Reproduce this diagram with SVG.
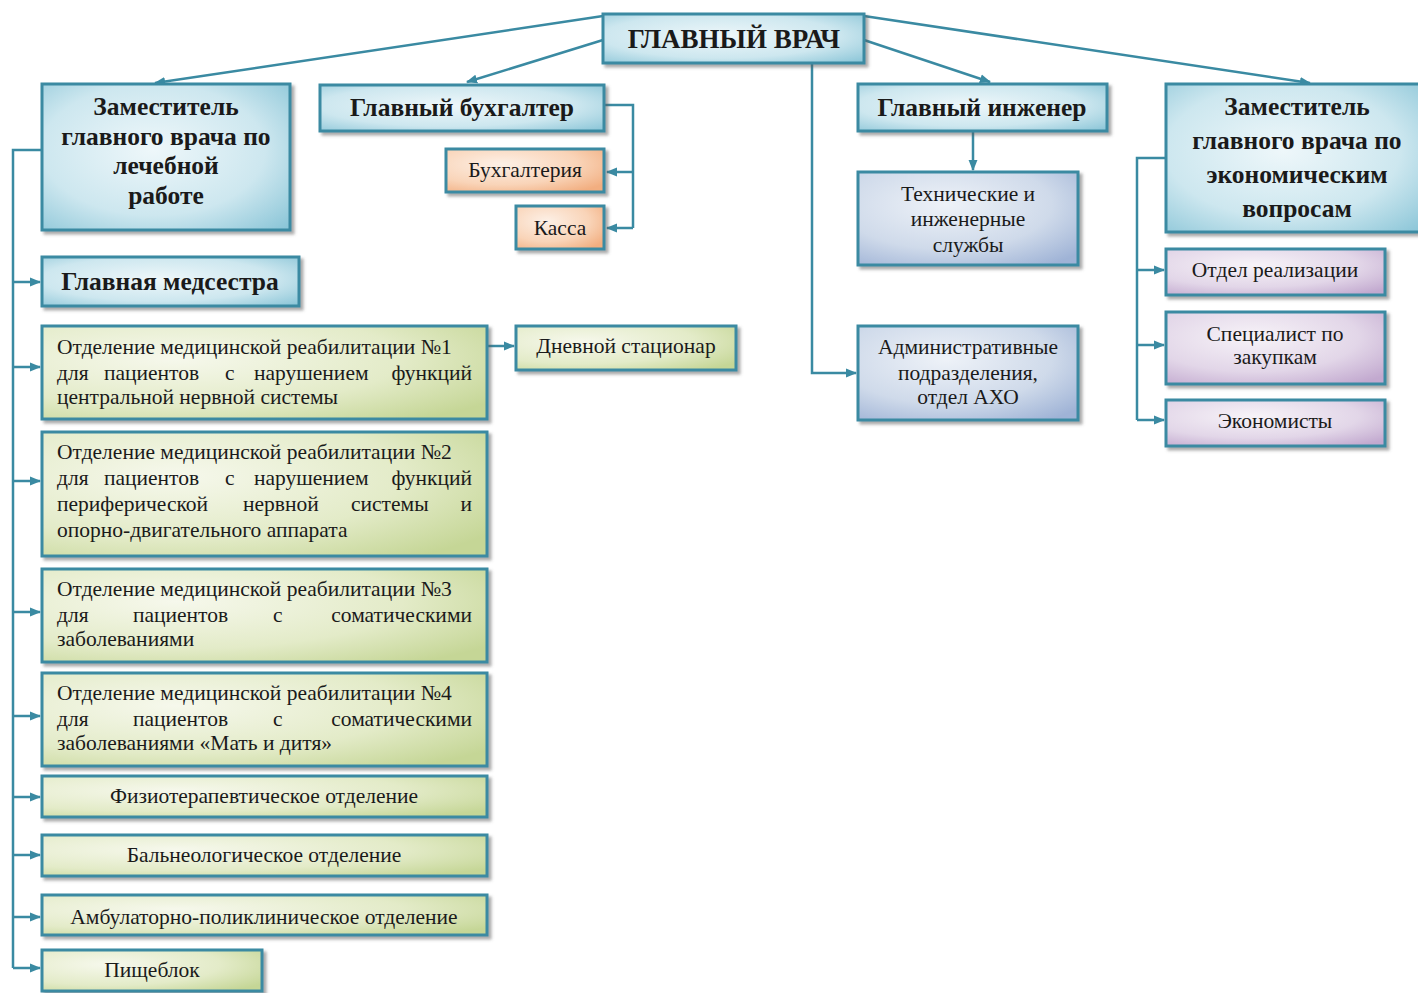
<svg xmlns="http://www.w3.org/2000/svg" width="1418" height="993" viewBox="0 0 1418 993">
<defs>
<radialGradient id="gBlue" cx="0.45" cy="0.45" r="0.75"><stop offset="0" stop-color="#eef7fa"/><stop offset="0.6" stop-color="#cde7ef"/><stop offset="1" stop-color="#8cc6d8"/></radialGradient>
<radialGradient id="gGreen" cx="0.3" cy="0.35" r="0.85"><stop offset="0" stop-color="#f6f8ec"/><stop offset="0.6" stop-color="#e3ebc8"/><stop offset="1" stop-color="#c5d696"/></radialGradient>
<radialGradient id="gOrange" cx="0.35" cy="0.35" r="0.8"><stop offset="0" stop-color="#fdf0e6"/><stop offset="0.6" stop-color="#f9d4b8"/><stop offset="1" stop-color="#f2ae80"/></radialGradient>
<radialGradient id="gPurple" cx="0.4" cy="0.35" r="0.8"><stop offset="0" stop-color="#f7f3f8"/><stop offset="0.6" stop-color="#e2d6e8"/><stop offset="1" stop-color="#c2a9cf"/></radialGradient>
<radialGradient id="gSteel" cx="0.4" cy="0.35" r="0.8"><stop offset="0" stop-color="#eef2f8"/><stop offset="0.6" stop-color="#cfdaea"/><stop offset="1" stop-color="#9fb3d6"/></radialGradient>
<filter id="sh" x="-5%" y="-10%" width="115%" height="130%"><feDropShadow dx="3" dy="3" stdDeviation="1.5" flood-color="#555" flood-opacity="0.5"/></filter>
<marker id="ar" viewBox="0 0 10 10" refX="9" refY="5" markerWidth="4.5" markerHeight="4.5" orient="auto" markerUnits="strokeWidth"><path d="M0,1 L10,5 L0,9 z" fill="#3a8aa2"/></marker>
</defs>
<style>
.box{stroke:#3a8aa2;stroke-width:3;filter:url(#sh)}
.b{fill:url(#gBlue)} .g{fill:url(#gGreen)} .o{fill:url(#gOrange)} .p{fill:url(#gPurple)} .s{fill:url(#gSteel)}
.c{fill:none;stroke:#3a8aa2;stroke-width:2.5}
.a{marker-end:url(#ar)}
text{font-family:"Liberation Serif","Times New Roman",serif;fill:#1a1a1a}
.hb{font-weight:bold;font-size:25.5px;text-anchor:middle}
.t{font-size:21.5px}
.m{text-anchor:middle}
.e{text-anchor:end}
</style>
<rect width="1418" height="993" fill="#ffffff"/>
<g id="connectors">
<path class="c a" d="M603,16 L155,83"/>
<path class="c a" d="M603,40 L467,82"/>
<path class="c a" d="M864,16 L1310,83"/>
<path class="c a" d="M864,40 L990,82"/>
<path class="c a" d="M812,63 L812,373 L856,373"/>
<path class="c" d="M604,105 L633,105 L633,228"/>
<path class="c a" d="M633,172 L607,172"/>
<path class="c a" d="M633,228 L607,228"/>
<path class="c a" d="M973,131 L973,170"/>
<path class="c" d="M1166,158 L1137,158 L1137,420"/>
<path class="c a" d="M1137,270 L1164,270"/>
<path class="c a" d="M1137,345 L1164,345"/>
<path class="c a" d="M1137,420 L1164,420"/>
<path class="c" d="M42,150 L13,150 L13,968"/>
<path class="c a" d="M13,282 L40,282"/>
<path class="c a" d="M13,367 L40,367"/>
<path class="c a" d="M13,481 L40,481"/>
<path class="c a" d="M13,612 L40,612"/>
<path class="c a" d="M13,716 L40,716"/>
<path class="c a" d="M13,797 L40,797"/>
<path class="c a" d="M13,855 L40,855"/>
<path class="c a" d="M13,917 L40,917"/>
<path class="c a" d="M13,968 L40,968"/>
<path class="c a" d="M487,346 L514,346"/>
</g>
<g id="n-chief"><rect class="box b" x="603" y="14" width="261" height="49" stroke-width="4"/><text class="hb" x="734" y="48" style="font-size:27px">ГЛАВНЫЙ ВРАЧ</text></g>
<g id="n-dep-med"><rect class="box b" x="42" y="84" width="248" height="146"/>
<text class="hb" x="166" y="115">Заместитель</text><text class="hb" x="166" y="145">главного врача по</text><text class="hb" x="166" y="174">лечебной</text><text class="hb" x="166" y="204">работе</text></g>
<g id="n-accountant"><rect class="box b" x="320" y="85" width="284" height="46"/><text class="hb" x="462" y="116">Главный бухгалтер</text></g>
<g id="n-accounting"><rect class="box o" x="446" y="149" width="158" height="43"/><text class="t m" x="525" y="177">Бухгалтерия</text></g>
<g id="n-cash"><rect class="box o" x="516" y="206" width="88" height="43"/><text class="t m" x="560" y="235">Касса</text></g>
<g id="n-engineer"><rect class="box b" x="858" y="84" width="249" height="47"/><text class="hb" x="982" y="116">Главный инженер</text></g>
<g id="n-tech"><rect class="box s" x="858" y="172" width="220" height="93"/>
<text class="t m" x="968" y="201">Технические и</text><text class="t m" x="968" y="226">инженерные</text><text class="t m" x="968" y="252">службы</text></g>
<g id="n-admin"><rect class="box s" x="858" y="326" width="220" height="94"/>
<text class="t m" x="968" y="354">Административные</text><text class="t m" x="968" y="380">подразделения,</text><text class="t m" x="968" y="404">отдел АХО</text></g>
<g id="n-dep-econ"><rect class="box b" x="1166" y="84" width="260" height="148"/>
<text class="hb" x="1297" y="115">Заместитель</text><text class="hb" x="1297" y="149">главного врача по</text><text class="hb" x="1297" y="183">экономическим</text><text class="hb" x="1297" y="217">вопросам</text></g>
<g id="n-sales"><rect class="box p" x="1166" y="249" width="219" height="46"/><text class="t m" x="1275" y="277">Отдел реализации</text></g>
<g id="n-purch"><rect class="box p" x="1166" y="312" width="219" height="72"/><text class="t m" x="1275" y="341">Специалист по</text><text class="t m" x="1275" y="364">закупкам</text></g>
<g id="n-econ"><rect class="box p" x="1166" y="400" width="219" height="46"/><text class="t m" x="1275" y="428">Экономисты</text></g>
<g id="n-nurse"><rect class="box b" x="42" y="257" width="257" height="49"/><text class="hb" x="170" y="290">Главная медсестра</text></g>
<g id="n-omr1"><rect class="box g" x="42" y="326" width="445" height="93"/>
<text class="t" x="57" y="354">Отделение медицинской реабилитации №1</text>
<text class="t" y="380"><tspan x="57">для</tspan><tspan x="104">пациентов</tspan><tspan x="225">с</tspan><tspan x="254">нарушением</tspan></text><text class="t e" x="472" y="380">функций</text>
<text class="t" x="57" y="404">центральной нервной системы</text></g>
<g id="n-day"><rect class="box g" x="516" y="326" width="220" height="44"/><text class="t m" x="626" y="353">Дневной стационар</text></g>
<g id="n-omr2"><rect class="box g" x="42" y="432" width="445" height="124"/>
<text class="t" x="57" y="459">Отделение медицинской реабилитации №2</text>
<text class="t" y="485"><tspan x="57">для</tspan><tspan x="104">пациентов</tspan><tspan x="225">с</tspan><tspan x="254">нарушением</tspan></text><text class="t e" x="472" y="485">функций</text>
<text class="t" y="511"><tspan x="57">периферической</tspan><tspan x="243">нервной</tspan><tspan x="351">системы</tspan></text><text class="t e" x="472" y="511">и</text>
<text class="t" x="57" y="537">опорно-двигательного аппарата</text></g>
<g id="n-omr3"><rect class="box g" x="42" y="569" width="445" height="93"/>
<text class="t" x="57" y="596">Отделение медицинской реабилитации №3</text>
<text class="t" y="622"><tspan x="57">для</tspan><tspan x="133">пациентов</tspan><tspan x="273">с</tspan></text><text class="t e" x="472" y="622">соматическими</text>
<text class="t" x="57" y="646">заболеваниями</text></g>
<g id="n-omr4"><rect class="box g" x="42" y="673" width="445" height="93"/>
<text class="t" x="57" y="700">Отделение медицинской реабилитации №4</text>
<text class="t" y="726"><tspan x="57">для</tspan><tspan x="133">пациентов</tspan><tspan x="273">с</tspan></text><text class="t e" x="472" y="726">соматическими</text>
<text class="t" x="57" y="750">заболеваниями «Мать и дитя»</text></g>
<g id="n-physio"><rect class="box g" x="42" y="776" width="445" height="41"/><text class="t m" x="264" y="803">Физиотерапевтическое отделение</text></g>
<g id="n-balneo"><rect class="box g" x="42" y="835" width="445" height="41"/><text class="t m" x="264" y="862">Бальнеологическое отделение</text></g>
<g id="n-ambul"><rect class="box g" x="42" y="895" width="445" height="40"/><text class="t m" x="264" y="924">Амбулаторно-поликлиническое отделение</text></g>
<g id="n-food"><rect class="box g" x="42" y="950" width="220" height="41"/><text class="t m" x="152" y="977">Пищеблок</text></g>
</svg>
